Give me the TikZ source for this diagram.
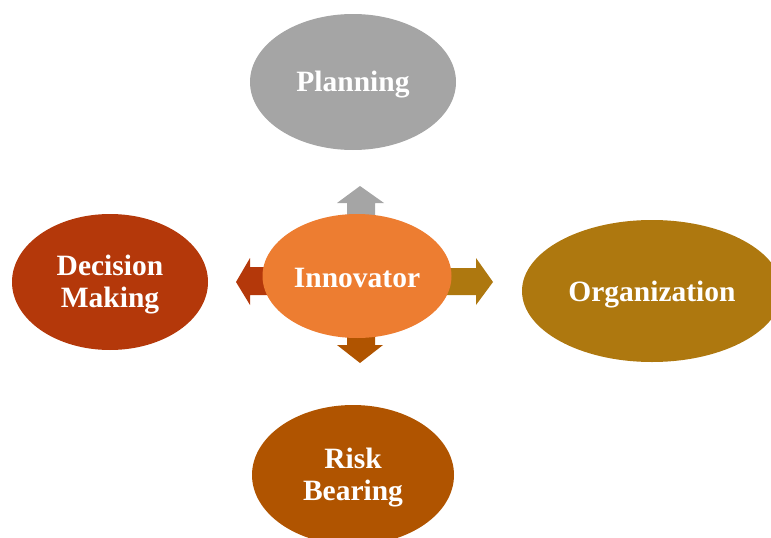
\documentclass[tikz,border=0pt]{standalone}
\usepackage{fontspec}
\setmainfont{Liberation Serif}
\usetikzlibrary{shapes.geometric}
\definecolor{cPlan}{HTML}{A5A5A5}
\definecolor{cInno}{HTML}{ED7D31}
\definecolor{cDec}{HTML}{B4380A}
\definecolor{cOrg}{HTML}{AE780F}
\definecolor{cRisk}{HTML}{B05400}
\begin{document}
\begin{tikzpicture}[x=1pt,y=-1pt,
  blob/.style={ellipse,inner sep=0pt},
  txt/.style={text=white,align=center,inner sep=0pt,yshift=-2.5pt,
    font=\fontsize{29.5}{31.5}\selectfont\bfseries},
  ]
\useasboundingbox (0,0) rectangle (771,538);
\clip (0,0) rectangle (771,538);
% block arrows pointing out of the centre
\fill[cPlan] (347,228) -- (347,203) -- (337,203) -- (360,186) -- (384,203) -- (375,203) -- (375,228) -- cycle;
\fill[cDec] (272,267) -- (250,267) -- (250,258) -- (236,282) -- (250,305) -- (250,295) -- (272,295) -- cycle;
\fill[cOrg] (445,268) -- (476,268) -- (476,258) -- (493,282) -- (476,305) -- (476,295) -- (445,295) -- cycle;
\fill[cRisk] (347,320) -- (347,345) -- (337,345) -- (360,363) -- (383,345) -- (375,345) -- (375,320) -- cycle;
% ellipses with centred labels
\node[blob,fill=cPlan,minimum width=206pt,minimum height=136pt,
  label={[txt]center:Planning}] (plan) at (353,82) {};
\node[blob,fill=cInno,minimum width=189pt,minimum height=124pt,
  label={[txt,yshift=1pt]center:Innovator}] (inno) at (357,276) {};
\node[blob,fill=cDec,minimum width=196pt,minimum height=136pt,
  label={[txt]center:{Decision\\Making}}] (dec) at (110,282) {};
\node[blob,fill=cOrg,minimum width=260pt,minimum height=142pt,
  label={[txt,yshift=-1pt]center:Organization}] (org) at (652,291) {};
\node[blob,fill=cRisk,minimum width=202pt,minimum height=140pt,
  label={[txt]center:{Risk\\Bearing}}] (risk) at (353,475) {};
\end{tikzpicture}
\end{document}
